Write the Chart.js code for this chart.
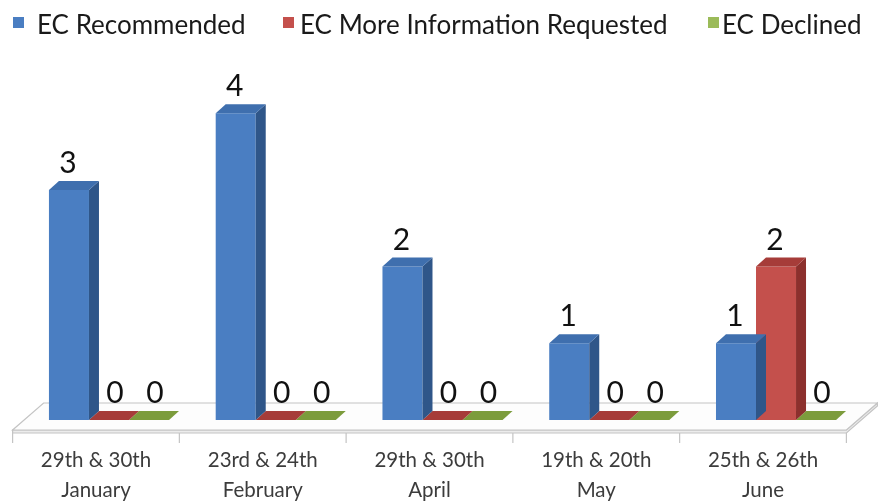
<!DOCTYPE html>
<html><head><meta charset="utf-8">
<script src="https://cdn.jsdelivr.net/npm/chart.js@4.4.0/dist/chart.umd.min.js"></script>
<style>html,body{margin:0;padding:0;background:#fff}#wrap{width:878px;height:502px;position:relative}</style>
</head><body><div id="wrap"><canvas id="c"></canvas></div>
<script>
const categories = [["29th & 30th","January"],["23rd & 24th","February"],["29th & 30th","April"],["19th & 20th","May"],["25th & 26th","June"]];
const seriesNames = ["EC Recommended","EC More Information Requested","EC Declined"];
const recommended = [3,4,2,1,1];
const moreInfo = [0,0,0,0,2];
const declined = [0,0,0,0,0];

const frontColors = ["#4a7ec2","#c4504c","#9bbb59"];
const sideColors = ["#2f5689","#8c302d","#6f8a38"];
const topColors = ["#3f6fae","#a63c39","#7c9c3c"];

const DEPTH_X = 10, DEPTH_Y = 9;
const FLOOR_FRONT_DX = -13, FLOOR_FRONT_DY = 10, FLOOR_BACK_DX = 18, FLOOR_BACK_DY = -17;
const LEGEND_BOX_X = [13, 283, 708];
const LEGEND_TEXT_X = [37, 300, 722];

const threeD = {
  id: 'threeD',
  beforeDatasetsDraw(chart) {
    const ctx = chart.ctx, a = chart.chartArea;
    const B = chart.scales.y.getPixelForValue(0);
    const L = a.left, R = a.right;
    ctx.save();
    // legend
    ctx.font = '26px Lato';
    ctx.textBaseline = 'alphabetic';
    ctx.textAlign = 'left';
    seriesNames.forEach((name, i) => {
      ctx.fillStyle = frontColors[i];
      ctx.fillRect(LEGEND_BOX_X[i], 17, 11, 11);
      ctx.fillStyle = '#1a1a1a';
      ctx.fillText(name, LEGEND_TEXT_X[i], 34);
    });
    // floor thickness
    ctx.fillStyle = '#ececec';
    ctx.strokeStyle = '#c4c4c4';
    ctx.lineWidth = 1.2;
    ctx.beginPath();
    ctx.moveTo(L + FLOOR_FRONT_DX, B + FLOOR_FRONT_DY);
    ctx.lineTo(R + FLOOR_FRONT_DX, B + FLOOR_FRONT_DY);
    ctx.lineTo(R + FLOOR_BACK_DX, B + FLOOR_BACK_DY);
    ctx.lineTo(R + FLOOR_BACK_DX, B + FLOOR_BACK_DY + 3);
    ctx.lineTo(R + FLOOR_FRONT_DX, B + FLOOR_FRONT_DY + 3);
    ctx.lineTo(L + FLOOR_FRONT_DX, B + FLOOR_FRONT_DY + 3);
    ctx.closePath();
    ctx.fill(); ctx.stroke();
    // floor top
    ctx.fillStyle = '#fdfdfd';
    ctx.beginPath();
    ctx.moveTo(L + FLOOR_FRONT_DX, B + FLOOR_FRONT_DY);
    ctx.lineTo(R + FLOOR_FRONT_DX, B + FLOOR_FRONT_DY);
    ctx.lineTo(R + FLOOR_BACK_DX, B + FLOOR_BACK_DY);
    ctx.lineTo(L + FLOOR_BACK_DX, B + FLOOR_BACK_DY);
    ctx.closePath();
    ctx.fill(); ctx.stroke();
    // category dividers and labels
    const xs = chart.scales.x;
    const n = categories.length;
    const catW = (R - L) / n;
    ctx.beginPath();
    for (let k = 0; k <= n; k++) {
      const x = L + FLOOR_FRONT_DX + k * catW;
      ctx.moveTo(x, B + FLOOR_FRONT_DY + 3);
      ctx.lineTo(x, B + FLOOR_FRONT_DY + 13);
    }
    ctx.stroke();
    ctx.fillStyle = '#3c3c3c';
    ctx.font = '20.5px Lato';
    ctx.textAlign = 'center';
    categories.forEach((lines, i) => {
      const cx = xs.getPixelForValue(i) + FLOOR_FRONT_DX;
      lines.forEach((t, j) => ctx.fillText(t, cx, 467 + j * 30));
    });
    ctx.restore();
  },
  afterDatasetDraw(chart, args) {
    const ctx = chart.ctx;
    const di = args.index;
    const meta = args.meta;
    ctx.save();
    meta.data.forEach(bar => {
      const p = bar.getProps(['x', 'y', 'base', 'width'], true);
      const l = p.x - p.width / 2, r = p.x + p.width / 2;
      const top = Math.min(p.y, p.base), bot = Math.max(p.y, p.base);
      if (bot - top > 0.5) {
        ctx.fillStyle = sideColors[di];
        ctx.beginPath();
        ctx.moveTo(r, top);
        ctx.lineTo(r + DEPTH_X, top - DEPTH_Y);
        ctx.lineTo(r + DEPTH_X, bot - DEPTH_Y);
        ctx.lineTo(r, bot);
        ctx.closePath();
        ctx.fill();
      }
      ctx.fillStyle = topColors[di];
      ctx.beginPath();
      ctx.moveTo(l, top);
      ctx.lineTo(r, top);
      ctx.lineTo(r + DEPTH_X, top - DEPTH_Y);
      ctx.lineTo(l + DEPTH_X, top - DEPTH_Y);
      ctx.closePath();
      ctx.fill();
    });
    ctx.restore();
  },
  afterDatasetsDraw(chart) {
    const ctx = chart.ctx;
    ctx.save();
    ctx.fillStyle = '#111';
    ctx.font = '30px Lato';
    ctx.textAlign = 'center';
    ctx.textBaseline = 'alphabetic';
    chart.data.datasets.forEach((ds, di) => {
      chart.getDatasetMeta(di).data.forEach((bar, i) => {
        const p = bar.getProps(['x', 'y'], true);
        const v = ds.data[i];
        ctx.fillText(String(v), p.x + (v === 0 ? 6 : -1), p.y - 17);
      });
    });
    ctx.restore();
  }
};

new Chart(document.getElementById('c'), {
  type: 'bar',
  data: {
    labels: categories,
    datasets: [
      { label: seriesNames[0], data: recommended, backgroundColor: frontColors[0] },
      { label: seriesNames[1], data: moreInfo, backgroundColor: frontColors[1] },
      { label: seriesNames[2], data: declined, backgroundColor: frontColors[2] }
    ]
  },
  options: {
    responsive: true,
    maintainAspectRatio: false,
    animation: false,
    layout: { padding: { left: 25.6, right: 18.6, top: 51.84, bottom: 82 } },
    datasets: { bar: { categoryPercentage: 0.72, barPercentage: 1.0, borderWidth: 0 } },
    scales: {
      x: { display: false },
      y: { display: false, min: 0, max: 4.8 }
    },
    plugins: {
      legend: { display: false },
      tooltip: { enabled: false }
    }
  },
  plugins: [threeD]
});
</script>
</body></html>
